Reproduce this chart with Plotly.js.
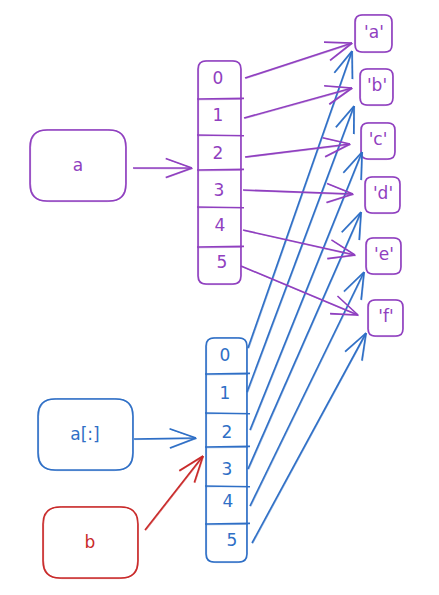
<!DOCTYPE html>
<html>
<head>
<meta charset="utf-8">
<script src="https://cdn.plot.ly/plotly-3.0.1.min.js"></script>
<style>
  html, body { margin: 0; padding: 0; background: #ffffff; }
  #chart { width: 439px; height: 595px; }
</style>
</head>
<body>
<div id="chart"></div>
<script>
// labels
var valueLabels = ["'a'", "'b'", "'c'", "'d'", "'e'", "'f'"];
var indexLabels = ["0", "1", "2", "3", "4", "5"];
var nameLabels = ["a", "a[:]", "b"];

// geometry (pixel space, y down)
var valueBoxes = [[355, 15, 392, 52], [360, 69, 393, 105], [361, 123, 395, 159],
                  [365, 177, 400, 213], [366, 238, 401, 274], [368, 300, 403, 336]];
var valueTextX = [374, 377, 378, 383, 384, 386];
var valueTextY = [34, 87, 141, 195, 256, 318];

var nameBoxes = [[30, 130, 126, 201], [38, 399, 133, 470], [43, 507, 138, 578]];
var nameTextX = [78, 85, 90];
var nameTextY = [167, 436, 544];

var purpleList = [198, 61, 241, 284];
var purpleDividers = [99, 135, 170, 207, 247];
var purpleIdxX = [218, 218, 218, 219, 220, 222];
var purpleIdxY = [80, 117, 155, 192, 227, 264];

var blueList = [206, 338, 247, 562];
var blueDividers = [374, 413, 447, 486, 524];
var blueIdxX = [225, 225, 227, 227, 228, 232];
var blueIdxY = [357, 395, 434, 471, 503, 542];

// arrows: [x start, y start, x end, y end]
var purpleArrows = [[245, 78, 352, 43], [244, 118, 352, 88], [245, 157, 350, 144],
                    [243, 190, 353, 194], [243, 230, 355, 255], [241, 266, 358, 315]];
var blueArrows = [[248, 348, 352, 51], [247, 392, 354, 106], [250, 430, 362, 152],
                  [248, 469, 361, 212], [250, 506, 364, 272], [252, 543, 366, 333]];
var nameArrows = [[133, 168, 192, 168], [134, 439, 196, 438], [145, 530, 203, 456]];

var PURPLE = "#9040c0", BLUE = "#2f6fc6", RED = "#c92a2a";
var FONT = "'DejaVu Sans', sans-serif";

var shapes = [];

function rrect(b, r) {
  var x0 = b[0], y0 = b[1], x1 = b[2], y1 = b[3];
  return "M" + (x0 + r) + "," + y0 + " L" + (x1 - r) + "," + y0 +
    " Q" + x1 + "," + y0 + " " + x1 + "," + (y0 + r) +
    " L" + x1 + "," + (y1 - r) + " Q" + x1 + "," + y1 + " " + (x1 - r) + "," + y1 +
    " L" + (x0 + r) + "," + y1 + " Q" + x0 + "," + y1 + " " + x0 + "," + (y1 - r) +
    " L" + x0 + "," + (y0 + r) + " Q" + x0 + "," + y0 + " " + (x0 + r) + "," + y0 + " Z";
}

function addBox(b, r, color) {
  shapes.push({ type: "path", xref: "x", yref: "y", path: rrect(b, r),
    line: { color: color, width: 1.6 } });
  // second sketchy pass
  var b2 = [b[0] + 0.6, b[1] - 0.5, b[2] - 0.4, b[3] + 0.6];
  shapes.push({ type: "path", xref: "x", yref: "y", path: rrect(b2, r + 1),
    line: { color: color, width: 0.9 }, opacity: 0.55 });
}

function addLine(x0, y0, x1, y1, color, w, op) {
  shapes.push({ type: "line", xref: "x", yref: "y", x0: x0, y0: y0, x1: x1, y1: y1,
    line: { color: color, width: w || 1.6 }, opacity: op || 1 });
}

function addArrow(a, color) {
  var x0 = a[0], y0 = a[1], x1 = a[2], y1 = a[3];
  addLine(x0, y0, x1, y1, color);
  addLine(x0 + 0.8, y0 + 0.6, x1 + 0.5, y1 + 0.8, color, 0.9, 0.55);
  var len = Math.hypot(x1 - x0, y1 - y0);
  var ux = (x0 - x1) / len, uy = (y0 - y1) / len;
  var L = 28, ang = 20 * Math.PI / 180;
  [ang, -ang].forEach(function (t) {
    var bx = ux * Math.cos(t) - uy * Math.sin(t);
    var by = ux * Math.sin(t) + uy * Math.cos(t);
    addLine(x1, y1, x1 + bx * L, y1 + by * L, color);
    addLine(x1 + 0.6, y1 + 0.5, x1 + bx * L + 0.7, y1 + by * L + 0.4, color, 0.9, 0.55);
  });
}

function addList(b, dividers, color) {
  addBox(b, 8, color);
  dividers.forEach(function (y, i) {
    addLine(b[0] - 1, y, b[2] + 3, y + (i % 2 ? 0.8 : -0.6), color);
    addLine(b[0], y + 0.8, b[2] + 1, y + 0.4, color, 0.9, 0.5);
  });
}

valueBoxes.forEach(function (b) { addBox(b, 7, PURPLE); });
addBox(nameBoxes[0], 17, PURPLE);
addBox(nameBoxes[1], 17, BLUE);
addBox(nameBoxes[2], 17, RED);
addList(purpleList, purpleDividers, PURPLE);
addList(blueList, blueDividers, BLUE);

blueArrows.forEach(function (a) { addArrow(a, BLUE); });
purpleArrows.forEach(function (a) { addArrow(a, PURPLE); });
addArrow(nameArrows[0], PURPLE);
addArrow(nameArrows[1], BLUE);
addArrow(nameArrows[2], RED);

function textTrace(xs, ys, txt, color, size) {
  return { type: "scatter", mode: "text", x: xs, y: ys, text: txt,
    textposition: "middle center", hoverinfo: "skip", showlegend: false,
    textfont: { family: FONT, size: size, color: color } };
}

var data = [
  textTrace(valueTextX, valueTextY, valueLabels, PURPLE, 17),
  textTrace(purpleIdxX, purpleIdxY, indexLabels, PURPLE, 17),
  textTrace(blueIdxX, blueIdxY, indexLabels, BLUE, 17),
  textTrace([nameTextX[0]], [nameTextY[0]], [nameLabels[0]], PURPLE, 17),
  textTrace([nameTextX[1]], [nameTextY[1]], [nameLabels[1]], BLUE, 17),
  textTrace([nameTextX[2]], [nameTextY[2]], [nameLabels[2]], RED, 17)
];

var layout = {
  width: 439,
  height: 595,
  margin: { l: 0, r: 0, t: 0, b: 0 },
  paper_bgcolor: "#ffffff",
  plot_bgcolor: "#ffffff",
  showlegend: false,
  xaxis: { range: [0, 439], visible: false, fixedrange: true },
  yaxis: { range: [595, 0], visible: false, fixedrange: true },
  shapes: shapes
};

Plotly.newPlot("chart", data, layout, { displayModeBar: false, staticPlot: true });
</script>
</body>
</html>
